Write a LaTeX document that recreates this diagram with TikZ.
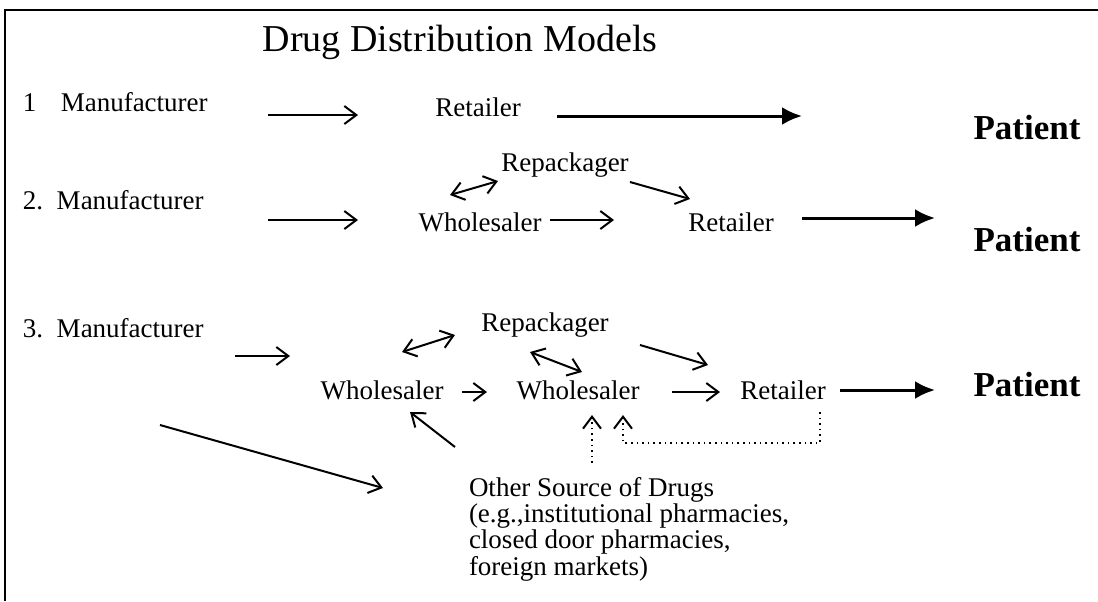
\documentclass[tikz,border=0pt]{standalone}
\usepackage{fontspec}
\setmainfont{Liberation Serif}
\usetikzlibrary{arrows.meta}

\begin{document}
\begin{tikzpicture}[x=0.5pt,y=-0.5pt,line width=1pt,
  lbl/.style={font=\fontsize{13.5}{13.2}\selectfont,inner sep=0pt},
  pat/.style={font=\fontsize{17.5}{20}\selectfont\bfseries,inner sep=0pt},
  flow/.style={-{Straight Barb[length=6pt,width=9pt]}},
  both/.style={{Straight Barb[length=6pt,width=9pt]}-{Straight Barb[length=6pt,width=9pt]}},
  heavy/.style={line width=1.5pt,-{Latex[length=10pt,width=9pt]}},
  dots/.style={dotted,line width=0.8pt,-{Straight Barb[length=6pt,width=9pt,line width=1pt]}}]
  \useasboundingbox (0,0) rectangle (1098,601);
  % rahmen
  \draw[line width=1.2pt] (5,601) -- (5,10) -- (1098,10);
  \node[inner sep=0pt,font=\fontsize{19}{22}\selectfont] (title) at (460,42) {Drug Distribution Models};
  % modell 1
  \node[lbl,anchor=west] (m1) at (22,102) {1\hspace{0.9em}Manufacturer};
  \node[lbl] (r1) at (478,107) {Retailer};
  \node[pat] (p1) at (1027,128) {Patient};
  \coordinate (a1s) at (268,115); \coordinate (a1e) at (358,115);
  \coordinate (b1s) at (557,116); \coordinate (b1e) at (802,116);
  \draw[flow] (a1s) -- (a1e);
  \draw[heavy] (b1s) -- (b1e);
  % modell 2
  \node[lbl] (k2) at (565,165) {Repackager};
  \node[lbl,anchor=west] (m2) at (22,200) {2.~~Manufacturer};
  \node[lbl] (w2) at (480,222) {Wholesaler};
  \node[lbl] (r2) at (731,222) {Retailer};
  \node[pat] (p2) at (1027,240) {Patient};
  \coordinate (c2s) at (450,195); \coordinate (c2e) at (498,181);
  \coordinate (d2s) at (630,182); \coordinate (d2e) at (690,199);
  \coordinate (a2s) at (268,220); \coordinate (a2e) at (358,220);
  \coordinate (e2s) at (550,220); \coordinate (e2e) at (614,220);
  \coordinate (b2s) at (802,218); \coordinate (b2e) at (935,218);
  \draw[both] (c2s) -- (c2e);
  \draw[flow] (d2s) -- (d2e);
  \draw[flow] (a2s) -- (a2e);
  \draw[flow] (e2s) -- (e2e);
  \draw[heavy] (b2s) -- (b2e);
  % modell 3
  \node[lbl] (k3) at (545,325) {Repackager};
  \node[lbl,anchor=west] (m3) at (22,328) {3.~~Manufacturer};
  \node[lbl] (wa3) at (382,390) {Wholesaler};
  \node[lbl] (wb3) at (578,390) {Wholesaler};
  \node[lbl] (r3) at (783,390) {Retailer};
  \node[pat] (p3) at (1027,385) {Patient};
  \node[lbl,anchor=north west,align=left] (src) at (468,476)
    {Other Source of Drugs\\(e.g.,institutional pharmacies,\\closed door pharmacies,\\foreign markets)};
  \coordinate (c3s) at (402,352); \coordinate (c3e) at (455,335);
  \coordinate (f3s) at (530,352); \coordinate (f3e) at (582,372);
  \coordinate (d3s) at (640,345); \coordinate (d3e) at (708,365);
  \coordinate (a3s) at (235,356); \coordinate (a3e) at (290,356);
  \coordinate (e3s) at (462,392); \coordinate (e3e) at (487,392);
  \coordinate (g3s) at (672,392); \coordinate (g3e) at (720,392);
  \coordinate (b3s) at (840,390); \coordinate (b3e) at (935,390);
  \coordinate (h3s) at (455,447); \coordinate (h3e) at (410,412);
  \coordinate (l3s) at (160,425); \coordinate (l3e) at (383,488);
  \coordinate (s3s) at (592,463); \coordinate (s3e) at (592,415);
  \coordinate (t3s) at (820,412); \coordinate (t3e) at (623,415);
  \draw[both] (c3s) -- (c3e);
  \draw[both] (f3s) -- (f3e);
  \draw[flow] (d3s) -- (d3e);
  \draw[flow] (a3s) -- (a3e);
  \draw[flow] (e3s) -- (e3e);
  \draw[flow] (g3s) -- (g3e);
  \draw[heavy] (b3s) -- (b3e);
  \draw[flow] (h3s) -- (h3e);
  \draw[flow] (l3s) -- (l3e);
  \draw[dots] (s3s) -- (s3e);
  \draw[dots] (t3s) -- (820,443) -- (623,443) -- (t3e);
\end{tikzpicture}
\end{document}
